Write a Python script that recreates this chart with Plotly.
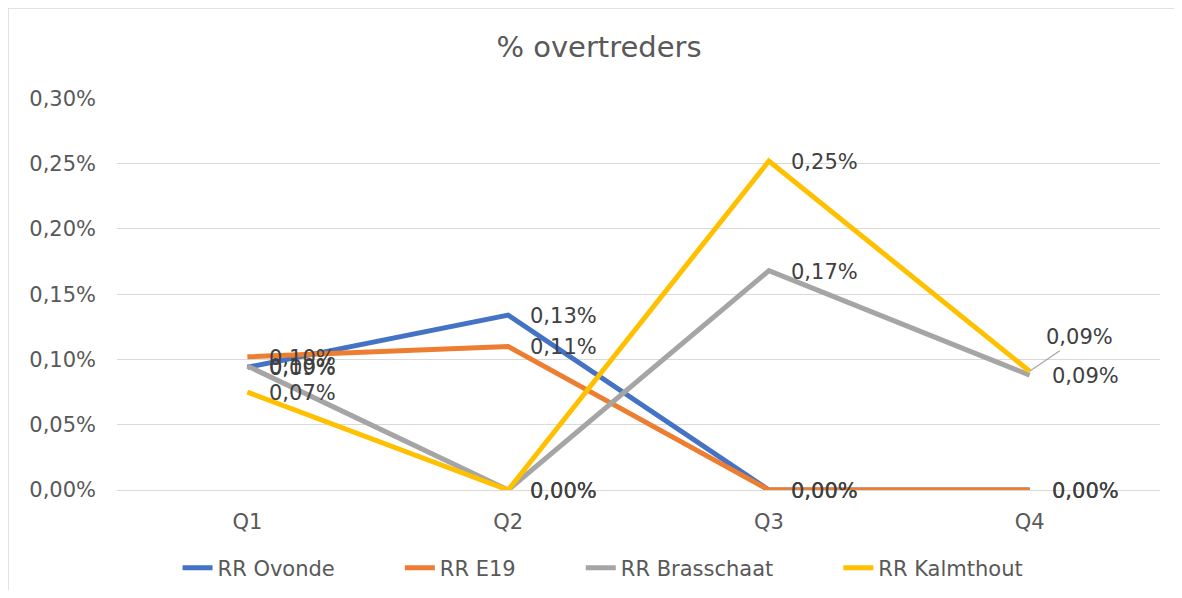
import plotly.graph_objects as go

categories = ["Q1", "Q2", "Q3", "Q4"]
series_names = ["RR Ovonde", "RR E19", "RR Brasschaat", "RR Kalmthout"]
ovonde = [0.094, 0.134, 0.000, 0.000]
e19 = [0.102, 0.110, 0.000, 0.000]
brasschaat = [0.095, 0.000, 0.168, 0.088]
kalmthout = [0.075, 0.000, 0.252, 0.091]
y_ticks = [0.00, 0.05, 0.10, 0.15, 0.20, 0.25, 0.30]
y_tick_labels = ["0,00%", "0,05%", "0,10%", "0,15%", "0,20%", "0,25%", "0,30%"]
title_text = "% overtreders"

series_values = [ovonde, e19, brasschaat, kalmthout]
colors = ["#4472C4", "#ED7D31", "#A5A5A5", "#FFC000"]
FONT = "DejaVu Sans"

W, H = 1166, 582
L, T, R, B = 109, 90, 14, 100
PW, PH = W - L - R, H - T - B

fig = go.Figure()
for i, (name, vals, col) in enumerate(zip(series_names, series_values, colors)):
    pad = "\u00a0" * 9 if i < len(series_names) - 1 else ""
    fig.add_trace(go.Scatter(
        x=categories, y=vals, name=name + pad, mode="lines",
        line=dict(color=col, width=5), hoverinfo="skip",
    ))

def fmt(v):
    return f"{v:.2f}%".replace(".", ",")

annotations = []
for s_idx, vals in enumerate(series_values):
    for c_idx, v in enumerate(vals):
        if s_idx == 3 and c_idx == 3:
            annotations.append(dict(
                x=categories[c_idx], y=v, xref="x", yref="y", text=fmt(v),
                showarrow=True, arrowhead=0, arrowwidth=1.2, arrowcolor="#A6A6A6",
                ax=50, ay=-34, standoff=0,
                font=dict(family=FONT, size=21, color="#404040"),
            ))
        else:
            annotations.append(dict(
                x=categories[c_idx], y=v, xref="x", yref="y", text=fmt(v),
                showarrow=False, xanchor="left", yanchor="middle",
                xshift=20, yshift=-1,
                font=dict(family=FONT, size=21, color="#404040"),
            ))

bx = -L / PW
by = 1 + T / PH
fig.update_layout(
    width=W, height=H,
    paper_bgcolor="white", plot_bgcolor="white",
    margin=dict(l=L, r=R, t=T, b=B, autoexpand=False),
    title=dict(text=title_text, x=(599 - 8) / W, xanchor="center", y=1 - 39 / H, yanchor="middle",
               font=dict(family=FONT, size=29, color="#595959")),
    font=dict(family=FONT, size=21, color="#595959"),
    showlegend=True,
    legend=dict(orientation="h", x=0.466, xanchor="center",
                yref="container", y=1 - 560 / H, yanchor="middle",
                font=dict(family=FONT, size=21, color="#595959"),
                itemwidth=30, tracegroupgap=0, bgcolor="rgba(0,0,0,0)"),
    annotations=annotations,
    shapes=[
        dict(type="line", xref="paper", yref="paper", x0=bx, x1=1 + R / PW + 0.02, y0=by, y1=by,
             line=dict(color="#D9D9D9", width=1.5)),
        dict(type="line", xref="paper", yref="paper", x0=bx, x1=bx, y0=by, y1=-B / PH - 0.05,
             line=dict(color="#D9D9D9", width=1.5)),
    ],
)
fig.update_xaxes(
    type="category", range=[-0.5, 3.5], showgrid=False, zeroline=False,
    showline=False, ticks="", ticklabelstandoff=17,
    tickfont=dict(family=FONT, size=21, color="#595959"),
)
fig.update_yaxes(
    range=[0, 0.3003], tickvals=y_ticks, ticktext=y_tick_labels,
    showgrid=True, gridcolor="#D9D9D9", gridwidth=1.3, zeroline=True,
    zerolinecolor="#D9D9D9", zerolinewidth=1.3, showline=False, ticks="",
    ticklabelstandoff=20,
    tickfont=dict(family=FONT, size=21, color="#595959"),
)

fig.write_html("out.html")
